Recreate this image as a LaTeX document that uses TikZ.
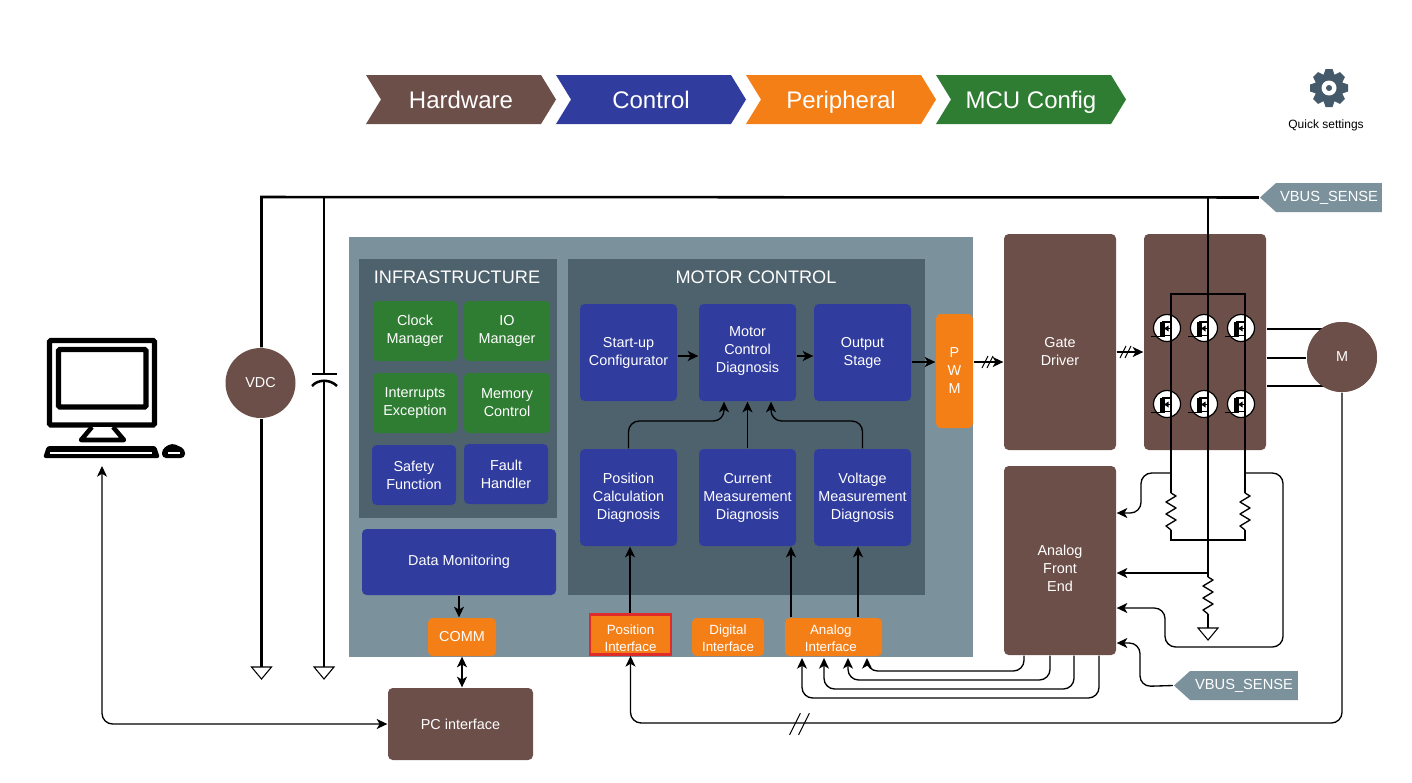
\documentclass[tikz,border=0pt]{standalone}
\usepackage{fontspec}
\setmainfont{Liberation Sans}
\usetikzlibrary{arrows.meta, shapes.symbols}

\definecolor{hwbrown}{HTML}{6D4F49}
\definecolor{ctrlblue}{HTML}{303C9E}
\definecolor{periorange}{HTML}{F57F17}
\definecolor{cfggreen}{HTML}{2E7D32}
\definecolor{panelgrey}{HTML}{7B919C}
\definecolor{paneldark}{HTML}{4E626D}
\definecolor{geargrey}{HTML}{44596A}
\definecolor{markred}{HTML}{E02B2B}

\begin{document}
\begin{tikzpicture}[
    x = 0.75pt,
    y = -0.75pt,
    line width = 1pt,
    > = {Stealth[length = 8pt, width = 7.5pt, inset = 2.2pt]},
    wire/.style = {rounded corners = 8pt},
    rail/.style = {line width = 1.9pt},
    size/.style 2 args = {minimum width = #1 * 0.75pt,
      minimum height = #2 * 0.75pt},
    boxtext/.style = {text = white, align = center,
      font = \fontsize{10.8}{13.5}\selectfont},
    box/.style = {boxtext, inner sep = 0, rounded corners = 3.5pt},
    hardware/.style = {box, fill = hwbrown},
    control/.style = {box, fill = ctrlblue},
    peripheral/.style = {box, fill = periorange},
    config/.style = {box, fill = cfggreen},
    small/.style = {font = \fontsize{10}{12.8}\selectfont},
    motor/.style = {circle, fill = hwbrown, boxtext, inner sep = 0,
      minimum size = {52.5pt}},
    panel/.style = {inner sep = 0},
    title/.style = {text = white, font = \fontsize{13.6}{16}\selectfont},
    tab/.style = {signal, signal to = east, signal from = west,
      signal pointer angle = 117, inner sep = 0, text = white,
      text height = 14.5pt, text depth = 1pt,
      font = \fontsize{18}{20}\selectfont, size = {190}{49}},
    sense/.style = {signal, signal to = west, signal from = nowhere,
      signal pointer angle = 84, inner sep = 0, fill = panelgrey,
      text = white, font = \fontsize{11}{13}\selectfont},
    fet/.pic = {
      \draw [fill = white, line width = 0.9pt] (0, 0) circle (13.5);
      \draw [line width = 0.9pt] (-16, 8.5) -- (-6, 8.5) -- (-6, -6);
      \draw [line width = 1.6pt] (-3.5, -7) -- (-3.5, 8.5);
      \draw [line width = 1pt] (-3.5, -6) -- (4, -6)
      (-3.5, 7.5) -- (4, 7.5) (-3.5, 0.5) -- (4, 0.5);
      \fill (-3, 0.5) -- (1.5, -2.5) -- (1.5, 3.5) -- cycle;
    },
    resistor/.pic = {
      \draw [line join = round] (0, 0) -- (5, 3) -- (-5, 9) -- (5, 15)
      -- (-5, 21) -- (5, 27) -- (-5, 33) -- (0, 37);
    },
    gnd/.pic = {
      \draw [line width = 0.8pt, fill = white]
      (-10, 0) -- (10, 0) -- (0, 12) -- cycle;
    },
    slash/.pic = {
      \draw [line width = 0.8pt] (-3, 6) -- (3, -6) (2, 6) -- (8, -6);
    },
    ]

    \useasboundingbox (0, 0) rectangle (1412, 782);

    % headline tabs
    \node at (461, 99.5) [tab, fill = hwbrown, name = tab_hw] {Hardware};
    \node at (651, 99.5) [tab, fill = ctrlblue, name = tab_ctrl] {Control};
    \node at (841, 99.5) [tab, fill = periorange, name = tab_peri] {Peripheral};
    \node at (1031, 99.5) [tab, fill = cfggreen, name = tab_cfg] {MCU Config};

    % gear
    \foreach \angle in {0, 45, ..., 315}
    \fill [geargrey, rotate around = {\angle: (1329, 88)}]
    (1323.5, 75) -- (1325.5, 69) -- (1332.5, 69) -- (1334.5, 75) -- cycle;
    \fill [geargrey] (1329, 88) circle (14.5);
    \fill [white] (1329, 88) circle (7.5);
    \fill [geargrey] (1329, 88) circle (3);
    \node at (1326, 125) [name = settings,
    font = \fontsize{9}{11}\selectfont] {Quick settings};

    % panels
    \node at (661, 447) [panel, fill = panelgrey, size = {624}{420},
    name = mcu] {};
    \node at (458, 388.5) [panel, fill = paneldark, size = {198}{259},
    name = infra] {};
    \node at (746.5, 427) [panel, fill = paneldark, size = {357}{336},
    name = motorctrl] {};
    \node at (457, 277) [title, name = infra_title] {INFRASTRUCTURE};
    \node at (756, 277) [title, name = motor_title] {MOTOR CONTROL};

    \node at (415, 331) [config, size = {84}{60}, name = clock]
    {Clock\\Manager};
    \node at (507, 331) [config, size = {86}{60}, name = io]
    {IO\\Manager};
    \node at (415, 403) [config, size = {84}{60}, name = interrupts]
    {Interrupts\\Exception};
    \node at (507, 403) [config, size = {86}{60}, name = memory]
    {Memory\\Control};
    \node at (414, 475) [control, size = {84}{60}, name = safety]
    {Safety\\Function};
    \node at (506, 474) [control, size = {84}{60}, name = fault]
    {Fault\\Handler};
    \node at (459, 562) [control, size = {194}{66}, name = monitoring]
    {Data Monitoring};

    \node at (628.5, 352.5) [control, size = {97}{97}, name = startup]
    {Start-up\\Configurator};
    \node at (747.5, 352.5) [control, size = {97}{97}, name = mc_diag,
    label = {[boxtext, yshift = 1pt]center:{Motor\\Control\\Diagnosis}}] {};
    \node at (862.5, 352.5) [control, size = {97}{97}, name = output]
    {Output\\Stage};
    \node at (628.5, 497.5) [control, size = {97}{97}, name = pos_diag]
    {Position\\Calculation\\Diagnosis};
    \node at (747.5, 497.5) [control, size = {97}{97}, name = cur_diag]
    {Current\\Measurement\\Diagnosis};
    \node at (862.5, 497.5) [control, size = {97}{97}, name = vol_diag]
    {Voltage\\Measurement\\Diagnosis};

    \node at (954.5, 371) [peripheral, size = {37}{114}, name = pwm]
    {P\\W\\M};
    \node at (462, 637) [peripheral, size = {68}{38}, name = comm] {COMM};
    \node at (630.5, 634.5) [peripheral, rounded corners = 0pt,
    draw = markred, line width = 2.2pt, size = {81}{40}, name = pos_if,
    label = {[boxtext, small, yshift = -2.5pt]center:{Position\\Interface}}] {};
    \node at (728, 637) [peripheral, size = {72}{38}, name = dig_if,
    label = {[boxtext, small, yshift = -1pt]center:{Digital\\Interface}}] {};
    \node at (833.5, 637) [peripheral, size = {97}{38}, name = ana_if,
    label = {[boxtext, small, yshift = -1pt, xshift = -2pt]center:{Analog\\Interface}}] {};

    \node at (1060, 342) [hardware, size = {112}{216}, name = gate,
    label = {[boxtext, yshift = -7pt]center:{Gate\\Driver}}] {};
    \node at (1205, 342) [hardware, size = {122}{216}, name = inverter] {};
    \node at (1060, 560.5) [hardware, size = {112}{189}, name = afe,
    label = {[boxtext, yshift = -6pt]center:{Analog\\Front\\End}}] {};
    \node at (460.5, 724) [hardware, size = {145}{72}, name = pc_if]
    {PC interface};
    \node at (1342, 357) [motor, name = M] {M};
    \node at (260.5, 383) [motor, name = VDC] {VDC};

    \node at (1329, 197.5) [sense, size = {122}{29}, name = sense_top]
    {VBUS\_SENSE};
    \node at (1244, 685.5) [sense, size = {124}{29}, name = sense_afe]
    {VBUS\_SENSE};

    % computer
    \draw [line width = 4pt, rounded corners = 1pt]
    (49.5, 340.5) rectangle (154.5, 425)
    (58.5, 349.5) rectangle (146, 407);
    \draw [line width = 3.4pt, line join = round, fill = white]
    (92, 427) -- (81, 440) -- (124, 440) -- (113, 427);
    \fill [rounded corners = 2pt] (43, 458) -- (47, 446) -- (156, 446)
    -- (160, 458) -- cycle;
    \fill [white] (50, 451.7) rectangle (152, 454.3);
    \fill [rounded corners = 3pt] (162, 458) -- (162, 449) -- (172, 443)
    -- (185, 449) -- (185, 458) -- cycle;
    \fill [white] (168, 451.7) rectangle (180, 454.3);
    \coordinate (pc_icon) at (102, 466);

    % power rails
    \coordinate (bus_left) at (261.5, 197);
    \coordinate (bus_cap) at (324, 197);
    \coordinate (bus_fet) at (1208, 197);
    \coordinate (gnd_vdc) at (261.5, 667);
    \coordinate (gnd_cap) at (324, 667);
    \coordinate (cap_top) at (324, 374);
    \coordinate (cap_bot) at (324, 381);

    \draw [rail] (sense_top.west) -- (bus_left) -- (bus_left |- VDC.north);
    \draw [rail] (bus_cap) -- (cap_top);
    \draw [rail] (cap_bot) -- (gnd_cap);
    \draw [rail] (gnd_vdc |- VDC.south) -- (gnd_vdc);
    \draw [rail] (312, 374) -- (337, 374);
    \draw [rail] (312, 386) .. controls (318, 379) and (330, 379) .. (337, 386);
    \pic at (gnd_vdc) {gnd};
    \pic at (gnd_cap) {gnd};

    % fets and shunts
    \coordinate (rail_l) at (1171, 294);
    \coordinate (rail_r) at (1245, 294);
    \coordinate (res_l) at (1171, 493);
    \coordinate (res_r) at (1245, 493);
    \coordinate (res_c) at (1208, 577);
    \coordinate (res_c_end) at (1208, 614);
    \coordinate (gnd_c) at (1208, 628);
    \coordinate (shunt_l) at (1171, 530);
    \coordinate (shunt_r) at (1245, 530);
    \coordinate (shunt_bot) at (1171, 540);

    \pic at (1167, 328) {fet};
    \pic at (1204, 328) {fet};
    \pic at (1241, 328) {fet};
    \pic at (1167, 404) {fet};
    \pic at (1204, 404) {fet};
    \pic at (1241, 404) {fet};

    \draw (res_l) -- (rail_l) -- (rail_r) -- (res_r);
    \draw [rail] (bus_fet) -- (inverter.north -| bus_fet);
    \draw (inverter.north -| bus_fet) -- (res_c);
    \pic at (res_l) {resistor};
    \pic at (res_r) {resistor};
    \pic at (res_c) {resistor};
    \draw (shunt_l) -- (shunt_bot) -- (shunt_bot -| shunt_r) -- (shunt_r);
    \draw (res_c_end) -- (gnd_c);
    \pic at (gnd_c) {gnd};

    \draw [line width = 1.6pt] (inverter.east |- 0, 329) -- (M.center |- 0, 329);
    \draw [line width = 1.6pt] (inverter.east |- 0, 358) -- (M.west |- 0, 358);
    \draw [line width = 1.6pt] (inverter.east |- 0, 386) -- (M.center |- 0, 386);
    \node at (1342, 357) [motor, name = M_top] {M};

    % inside the mcu
    \draw [->] (startup.east |- 0, 356) -- (mc_diag.west |- 0, 356);
    \draw [->] (mc_diag.east |- 0, 356) -- (output.west |- 0, 356);
    \draw [->] (output.east |- 0, 362) -- (pwm.west |- 0, 362);
    \draw [->, wire] (pos_diag.north) -- (pos_diag.north |- 0, 421)
    -- (724, 421) -- (mc_diag.south -| 724, 0);
    \draw [->] (cur_diag.north) -- (mc_diag.south);
    \draw [->, wire] (vol_diag.north) -- (vol_diag.north |- 0, 421)
    -- (771, 421) -- (mc_diag.south -| 771, 0);
    \draw [->] (pos_if.north -| 630, 0) -- (pos_diag.south -| 630, 0);
    \draw [->] (ana_if.north -| 791, 0) -- (cur_diag.south -| 791, 0);
    \draw [->] (ana_if.north -| 858, 0) -- (vol_diag.south -| 858, 0);
    \draw [->] (monitoring.south) -- (comm.north -| monitoring.south);
    \draw [<->] (comm.south) -- (pc_if.north -| comm.south);
    \draw [<->, wire] (pc_icon) |- (pc_if.west);

    % gate drive
    \draw [->] (pwm.east |- 0, 362) -- (gate.west |- 0, 362);
    \pic at (985, 362) {slash};
    \draw [->] (gate.east |- 0, 352) -- (inverter.west |- 0, 352);
    \pic at (1123, 352) {slash};

    % sense wires to the analog front end
    \draw [->, wire] (res_l |- 0, 473) -- (1141, 473) -- (1141, 513)
    -- (afe.east |- 0, 513);
    \draw [->] (res_c |- 0, 573) -- (afe.east |- 0, 573);
    \draw [->, wire] (res_r |- 0, 473) -- (1283, 473) -- (1283, 647)
    -- (1165, 647) -- (1165, 608) -- (afe.east |- 0, 608);
    \draw [->, wire] (sense_afe.west) -- (1140, 686.5) -- (1140, 643)
    -- (afe.east |- 0, 643);

    \draw [->, wire] (afe.south -| 1024, 0) -- (1024, 671) -- (867, 671)
    -- (867, 658);
    \draw [->, wire] (afe.south -| 1050, 0) -- (1050, 680) -- (848, 680)
    -- (848, 658);
    \draw [->, wire] (afe.south -| 1074, 0) -- (1074, 689) -- (824, 689)
    -- (824, 658);
    \draw [->, wire] (afe.south -| 1099, 0) -- (1099, 698) -- (802, 698)
    -- (802, 658);

    % position feedback
    \draw [->, wire] (M.south) -- (M.south |- 0, 723) -- (630.5, 723)
    -- (pos_if.south);
    \pic [scale = 1.8] at (795, 724) {slash};
  \end{tikzpicture}
\end{document}
